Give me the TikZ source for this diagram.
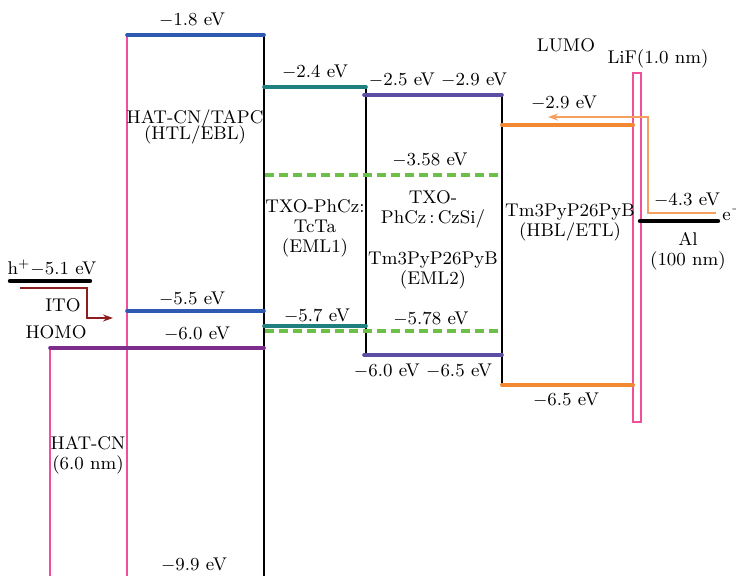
\documentclass[tikz,border=0pt]{standalone}
\usetikzlibrary{arrows.meta}
\definecolor{cblue}{RGB}{47,90,178}
\definecolor{cpink}{RGB}{240,80,155}
\definecolor{cpurple}{RGB}{125,45,140}
\definecolor{cteal}{RGB}{32,128,128}
\definecolor{cindigo}{RGB}{92,78,165}
\definecolor{cgreen}{RGB}{108,192,74}
\definecolor{corange}{RGB}{242,136,50}
\definecolor{clorange}{RGB}{245,160,96}
\definecolor{cdred}{RGB}{140,30,30}
\begin{document}
\begin{tikzpicture}[x=0.5pt,y=-0.5pt,
  lvl/.style={line width=1.8pt, line cap=round},
  wall/.style={line width=0.9pt, black},
  pinkwall/.style={line width=1pt, cpink},
  gdash/.style={line width=1.9pt, cgreen, dash pattern=on 4.5pt off 2.5pt},
  lbl/.style={inner sep=0pt, font=\fontsize{9.2}{10}\selectfont, align=center}]
\useasboundingbox (0,0) rectangle (736,576);

% coordinates
\coordinate (aTL) at (127,35);  \coordinate (aTR) at (264,35);
\coordinate (aBL) at (127,576); \coordinate (aBR) at (264,576);
\coordinate (a55L) at (127,311); \coordinate (a55R) at (264,311);
\coordinate (h60L) at (50,348);  \coordinate (h60R) at (264,348);
\coordinate (hB) at (50,576);
\coordinate (b24L) at (264,87);  \coordinate (b24R) at (366,87);
\coordinate (b57L) at (264,326); \coordinate (b57R) at (366,326);
\coordinate (w1T) at (366,87);   \coordinate (w1B) at (366,355);
\coordinate (c25L) at (364,95);  \coordinate (c25R) at (502,95);
\coordinate (c60L) at (364,355); \coordinate (c60R) at (502,355);
\coordinate (w2T) at (502,95);   \coordinate (w2B) at (502,385);
\coordinate (g1L) at (265,175);  \coordinate (g1R) at (502,175);
\coordinate (g2L) at (265,331);  \coordinate (g2R) at (502,331);
\coordinate (o29L) at (502,125); \coordinate (o29R) at (633,125);
\coordinate (o65L) at (502,385); \coordinate (o65R) at (633,385);
\coordinate (lifA) at (633,73);  \coordinate (lifB) at (641,422);
\coordinate (alL) at (640,221);  \coordinate (alR) at (718,221);
\coordinate (itoL) at (10,281);  \coordinate (itoR) at (90,281);
\coordinate (hs) at (20,288);    \coordinate (hk) at (87,318); \coordinate (he) at (113,318);
\coordinate (es) at (716,213);   \coordinate (ek) at (648,117); \coordinate (ee) at (548,117);

% walls
\draw[pinkwall] (aTL) -- (aBL);
\draw[pinkwall] (h60L) -- (hB);
\draw[wall] (aTR) -- (aBR);
\draw[wall] (w1T) -- (w1B);
\draw[wall] (w2T) -- (w2B);
\draw[cpink, line width=0.8pt] (lifA) rectangle (lifB);

% levels
\draw[lvl, cblue] (aTL) -- (aTR);
\draw[lvl, cblue] (a55L) -- (a55R);
\draw[lvl, cpurple] (h60L) -- (h60R);
\draw[lvl, cteal] (b24L) -- (b24R);
\draw[lvl, cteal] (b57L) -- (b57R);
\draw[lvl, cindigo] (c25L) -- (c25R);
\draw[lvl, cindigo] (c60L) -- (c60R);
\draw[gdash] (g1L) -- (g1R);
\draw[gdash] (g2L) -- (g2R);
\draw[lvl, corange, line width=2pt] (o29L) -- (o29R);
\draw[lvl, corange, line width=2pt] (o65L) -- (o65R);
\draw[line width=2.2pt, line cap=round] (alL) -- (alR);
\draw[line width=2.2pt, line cap=round] (itoL) -- (itoR);

% carrier arrows
\draw[cdred, line width=0.7pt, -{Stealth[length=5pt,width=3.5pt]}] (hs) -| (hk) -- (he);
\draw[clorange, line width=0.8pt, -{Stealth[length=5pt,width=3.5pt]}] (es) -| (ek) -- (ee);

% labels
\node[lbl] (t18) at (192,20) {$-$1.8 eV};
\node[lbl] (thtl) at (195,127) {HAT-CN/TAPC\\[-2pt](HTL/EBL)};
\node[lbl] (t55) at (192,299) {$-$5.5 eV};
\node[lbl] (t60) at (197,334) {$-$6.0 eV};
\node[lbl] (thomo) at (56,332) {HOMO};
\node[lbl] (tito) at (63,305) {ITO};
\node[lbl] (th) at (52,268) {h$^{+}$$-$5.1 eV};
\node[lbl] (thatcn) at (88,455) {HAT-CN\\(6.0 nm)};
\node[lbl] (t99) at (194,565) {$-$9.9 eV};
\node[lbl] (t24) at (315,72) {$-$2.4 eV};
\node[lbl] (t2529) at (438,80) {$-$2.5 eV $-$2.9 eV};
\node[lbl] (t358) at (430,160) {$-$3.58 eV};
\node[lbl] (teml1) at (315,228) {TXO-PhCz:\\TcTa\\(EML1)};
\node[lbl] (teml2a) at (433,209) {TXO-\\PhCz\,:\,CzSi/};
\node[lbl] (teml2b) at (433,271) {Tm3PyP26PyB\\(EML2)};
\node[lbl] (t57) at (317,316) {$-$5.7 eV};
\node[lbl] (t578) at (431,319) {$-$5.78 eV};
\node[lbl] (t6065) at (423,371) {$-$6.0 eV $-$6.5 eV};
\node[lbl] (t29) at (564,103) {$-$2.9 eV};
\node[lbl] (t65) at (566,400) {$-$6.5 eV};
\node[lbl] (tetl) at (570,223) {Tm3PyP26PyB\\(HBL/ETL)};
\node[lbl] (tlumo) at (566,45) {LUMO};
\node[lbl] (tlif) at (658,59) {LiF(1.0 nm)};
\node[lbl] (t43) at (687,200) {$-$4.3 eV};
\node[lbl, anchor=west] (te) at (722,213) {e$^{-}$};
\node[lbl] (tal) at (688,251) {Al\\(100 nm)};
\end{tikzpicture}
\end{document}
